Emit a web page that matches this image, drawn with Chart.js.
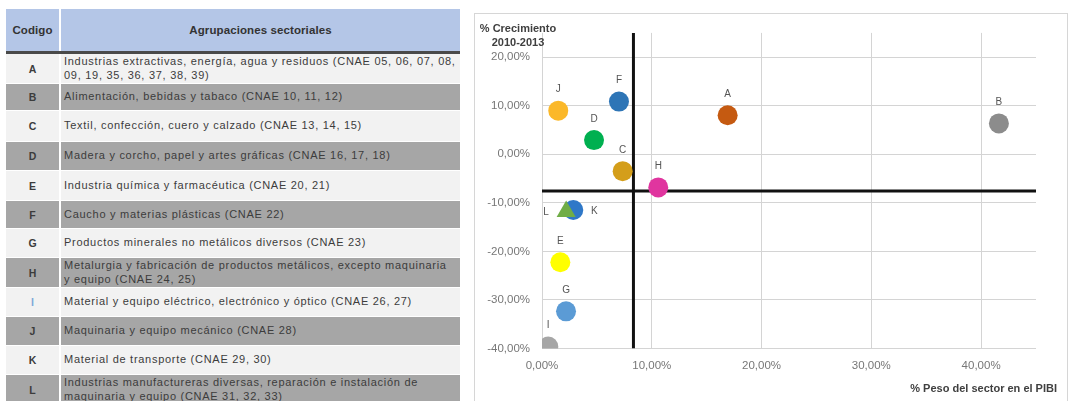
<!DOCTYPE html>
<html>
<head>
<meta charset="utf-8">
<script src="https://cdn.jsdelivr.net/npm/chart.js@4.4.1/dist/chart.umd.min.js"></script>
<style>
html,body{margin:0;padding:0;background:#fff;width:1068px;height:401px;overflow:hidden;font-family:"Liberation Sans",Arial,sans-serif;}
#tbl{position:absolute;left:0;top:0;width:470px;height:401px;}
.c{position:absolute;box-sizing:border-box;display:flex;align-items:center;color:#3c3c3c;overflow:hidden;}
.code{justify-content:center;font-weight:bold;font-size:10.5px;}
.desc{padding-left:3px;font-size:11px;letter-spacing:0.72px;line-height:13.5px;white-space:pre;}
.hdr{background:#b4c6e7;font-weight:bold;font-size:11.5px;color:#333;justify-content:center;letter-spacing:0.1px;}
#hline{position:absolute;left:6px;top:51px;width:454px;height:3px;background:#4a4a4a;}
#frame{position:absolute;left:474px;top:13px;width:594px;height:400px;border:1px solid #d6d6d6;box-sizing:border-box;}
#wrap{position:absolute;left:475px;top:14px;width:591px;height:387px;}
</style>
</head>
<body>
<div id="tbl"></div>
<div id="frame"></div>
<div id="wrap"><canvas id="chart"></canvas></div>
<script>
// ---- Data ----
const headerCode = 'Codigo';
const headerDesc = 'Agrupaciones sectoriales';
const codes = ['A','B','C','D','E','F','G','H','I','J','K','L'];
const descriptions = [
  'Industrias extractivas, energía, agua y residuos (CNAE 05, 06, 07, 08,\n09, 19, 35, 36, 37, 38, 39)',
  'Alimentación, bebidas y tabaco (CNAE 10, 11, 12)',
  'Textil, confección, cuero y calzado (CNAE 13, 14, 15)',
  'Madera y corcho, papel y artes gráficas (CNAE 16, 17, 18)',
  'Industria química y farmacéutica (CNAE 20, 21)',
  'Caucho y materias plásticas (CNAE 22)',
  'Productos minerales no metálicos diversos (CNAE 23)',
  'Metalurgia y fabricación de productos metálicos, excepto maquinaria\ny equipo (CNAE 24, 25)',
  'Material y equipo eléctrico, electrónico y óptico (CNAE 26, 27)',
  'Maquinaria y equipo mecánico (CNAE 28)',
  'Material de transporte (CNAE 29, 30)',
  'Industrias manufactureras diversas, reparación e instalación de\nmaquinaria y equipo (CNAE 31, 32, 33)'
];
// % Peso del sector en el PIBI (x) and % Crecimiento 2010-2013 (y)
const pesoPIBI    = [16.91, 41.62, 7.35, 4.74, 1.67, 7.01, 2.19, 10.59, 0.57, 1.48, 2.85, 2.20];
const crecimiento = [ 8.03,  6.36, -3.47, 2.93, -22.24, 10.86, -32.34, -6.82, -39.6, 8.98, -11.47, -11.8];
const mediaPeso = 8.33;
const mediaCrecimiento = -7.55;
const xTicksMax = 45, yTicksMin = -40, yTicksMax = 25;

// ---- Styles ----
const pointColors = ['#c55a11','#8c8c8c','#d49e1a','#00b050','#ffff00','#2e75b6','#5b9bd5','#e0359f','#a6a6a6','#fbb829','#2f78c8','#70ad47'];
const pointShapes = codes.map(c => c === 'L' ? 'triangle' : 'circle');
const pointRadii = codes.map(c => c === 'L' ? 11 : 10);
const labelSide = {K:'right', L:'left'};
const rowHeights = [30,27,31,29,30,28,29,30,29,29,29,30];
const rowGray = '#a6a6a6', rowLight = '#f2f2f2';

// ---- Table ----
const tbl = document.getElementById('tbl');
function cell(cls, left, top, w, h, bg, text, color){
  const d = document.createElement('div');
  d.className = 'c ' + cls;
  d.style.left = left+'px'; d.style.top = top+'px';
  d.style.width = w+'px'; d.style.height = h+'px';
  d.style.background = bg;
  if (color) d.style.color = color;
  d.textContent = text;
  tbl.appendChild(d);
}
cell('hdr', 6, 9, 53, 42, '#b4c6e7', headerCode);
cell('hdr', 61, 9, 399, 42, '#b4c6e7', headerDesc);
const hl = document.createElement('div'); hl.id='hline'; tbl.appendChild(hl);
let y = 54;
codes.forEach((c,i) => {
  const h = rowHeights[i];
  const bg = i % 2 === 1 ? rowGray : rowLight;
  cell('code', 6, y, 53, h-1, bg, c, c === 'I' ? '#7fa9d8' : null);
  cell('desc', 61, y, 399, h-1, bg, descriptions[i]);
  y += h;
});

// ---- Chart ----
const fmt = v => v.toFixed(2).replace('.', ',') + '%';
const labelsPlugin = {
  id: 'pointLabels',
  afterDatasetsDraw(chart){
    const ctx = chart.ctx;
    const meta = chart.getDatasetMeta(2);
    ctx.save();
    ctx.font = '10px "Liberation Sans", Arial, sans-serif';
    ctx.fillStyle = '#555';
    ctx.textBaseline = 'middle';
    ctx.textAlign = 'center';
    meta.data.forEach((pt, i) => {
      const c = codes[i];
      const side = labelSide[c];
      if (side === 'right') ctx.fillText(c, pt.x + 21, pt.y + 1);
      else if (side === 'left') ctx.fillText(c, pt.x - 20, pt.y + 1);
      else ctx.fillText(c, pt.x, pt.y - 21);
    });
    ctx.restore();
  },
  afterDraw(chart){
    const ctx = chart.ctx, a = chart.chartArea;
    ctx.save();
    ctx.fillStyle = '#404040';
    ctx.font = 'bold 11px "Liberation Sans", Arial, sans-serif';
    ctx.textBaseline = 'middle';
    ctx.textAlign = 'center';
    ctx.fillText('% Crecimiento', a.left - 24, a.top - 4);
    ctx.fillText('2010-2013', a.left - 24, a.top + 10);
    ctx.textAlign = 'right';
    ctx.fillText('% Peso del sector en el PIBI', chart.width - 9, chart.height - 12);
    ctx.restore();
  }
};

new Chart(document.getElementById('chart'), {
  type: 'scatter',
  data: {
    datasets: [
      { type:'line', data:[{x:0,y:mediaCrecimiento},{x:xTicksMax,y:mediaCrecimiento}], borderColor:'#111', borderWidth:3, pointRadius:0, order:3 },
      { type:'line', data:[{x:mediaPeso,y:yTicksMin},{x:mediaPeso,y:yTicksMax}], borderColor:'#111', borderWidth:3, pointRadius:0, order:2 },
      { data: codes.map((c,i)=>({x:pesoPIBI[i], y:crecimiento[i]})),
        backgroundColor: pointColors, borderColor: pointColors, borderWidth:0,
        pointStyle: pointShapes, pointRadius: pointRadii, pointHoverRadius: pointRadii, order:1 }
    ]
  },
  options: {
    responsive:true, maintainAspectRatio:false, animation:false,
    events: [],
    layout:{ padding:{left:0, right:30, top:13, bottom:0} },
    plugins:{ legend:{display:false}, tooltip:{enabled:false} },
    scales:{
      x:{ type:'linear', min:0, max:xTicksMax,
          ticks:{ stepSize:10, includeBounds:false, callback:v=>fmt(v), color:'#777', padding:10, maxRotation:0,
                  font:{family:'"Liberation Sans", Arial, sans-serif', size:11.5} },
          grid:{ color:'#d4d4d4', lineWidth:1, drawTicks:false },
          border:{ display:false },
          afterFit(s){ s.height = 52.5; } },
      y:{ type:'linear', min:yTicksMin, max:yTicksMax,
          ticks:{ stepSize:10, includeBounds:false, callback:v=>fmt(v), color:'#777', padding:12,
                  font:{family:'"Liberation Sans", Arial, sans-serif', size:11.5} },
          grid:{ color:'#d4d4d4', lineWidth:1, drawTicks:false },
          border:{ display:false },
          afterFit(s){ s.width = 67; } }
    }
  },
  plugins:[labelsPlugin]
});
</script>
</body>
</html>
